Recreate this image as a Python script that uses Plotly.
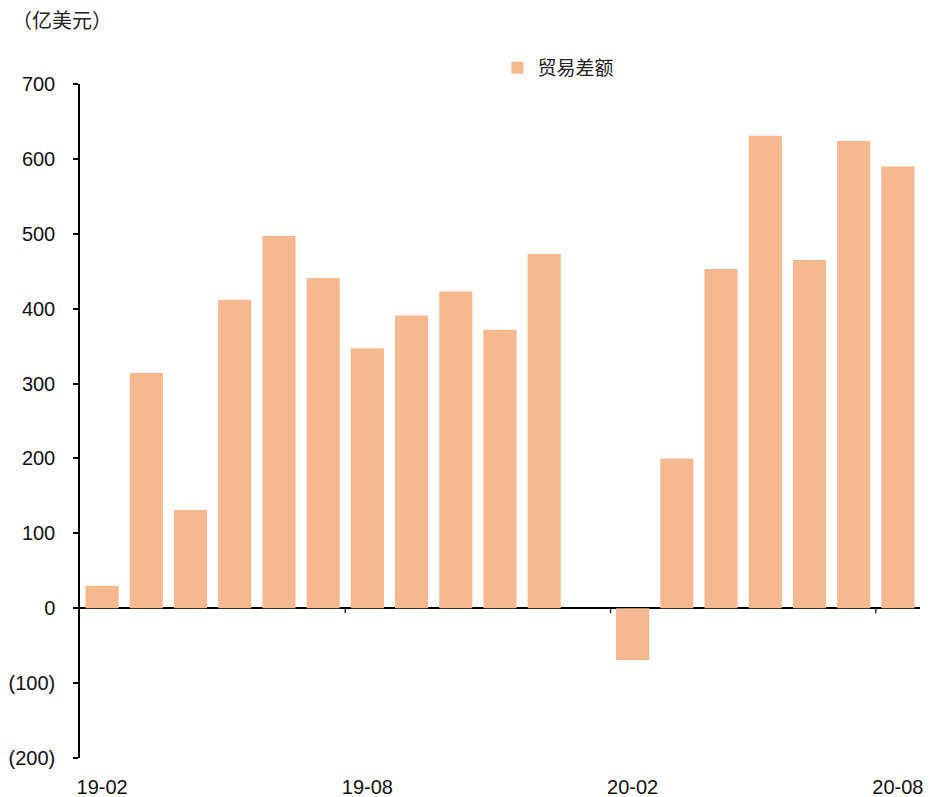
import plotly.graph_objects as go

months = ["19-02", "19-03", "19-04", "19-05", "19-06", "19-07", "19-08", "19-09", "19-10",
          "19-11", "19-12", "20-01", "20-02", "20-03", "20-04", "20-05", "20-06", "20-07", "20-08"]
trade_balance = [30, 314, 131, 412, 497, 441, 347, 391, 423, 372, 473, None, -69, 200, 453, 631,
                 465, 624, 590]
y_tick_vals = [-200, -100, 0, 100, 200, 300, 400, 500, 600, 700]
y_tick_text = ["(200)", "(100)", "0", "100", "200", "300", "400", "500", "600", "700"]
x_label_months = ["19-02", "19-08", "20-02", "20-08"]

idx = list(range(len(months)))
x_tick_vals = [months.index(m) for m in x_label_months]

BAR = "#F5B88F"
FONT = "Liberation Sans, Arial, sans-serif"
CJK = "Noto Sans CJK SC, sans-serif"

fig = go.Figure()
fig.add_trace(go.Bar(
    x=idx, y=trade_balance, name="贸易差额",
    marker=dict(color=BAR, line=dict(width=0)),
))

# boundary tick marks on zero line
shapes = []
for v in x_tick_vals[1:]:
    shapes.append(dict(type="line", xref="x", yref="y", x0=v - 0.5, x1=v - 0.5,
                       ysizemode="pixel", yanchor=0, y0=0, y1=-5,
                       line=dict(color="#333333", width=1.5)))

fig.update_layout(
    width=934, height=797,
    margin=dict(l=80, r=14, t=84, b=39),
    plot_bgcolor="white", paper_bgcolor="white",
    bargap=0.25,
    showlegend=True,
    legend=dict(x=0.497, y=1.024, xanchor="left", yanchor="middle",
                font=dict(family=CJK, size=19, color="#222222"),
                bgcolor="rgba(0,0,0,0)", itemwidth=30),
    xaxis=dict(range=[-0.5, len(months) - 0.5], tickmode="array",
               tickvals=x_tick_vals, ticktext=x_label_months,
               showline=False, showgrid=False, zeroline=False, ticks="",
               ticklabelstandoff=15, automargin=False,
               tickfont=dict(family=FONT, size=20, color="#111111")),
    yaxis=dict(range=[-200, 700], tickmode="array", tickvals=y_tick_vals, ticktext=y_tick_text,
               showline=True, linecolor="black", linewidth=1.5,
               ticks="outside", ticklen=5, tickcolor="black", tickwidth=1.5,
               showgrid=False, zeroline=True, zerolinecolor="black", zerolinewidth=1.5,
               ticklabelstandoff=14, automargin=False,
               tickfont=dict(family=FONT, size=20, color="#111111")),
    shapes=shapes,
    annotations=[dict(text="（亿美元）", xref="paper", yref="paper", x=-0.083, y=1.095,
                      xanchor="left", yanchor="middle", showarrow=False,
                      font=dict(family=CJK, size=20, color="#222222"))],
)

fig.write_html("out.html", config={"displayModeBar": False},
               post_script="document.body.style.margin='0';")
